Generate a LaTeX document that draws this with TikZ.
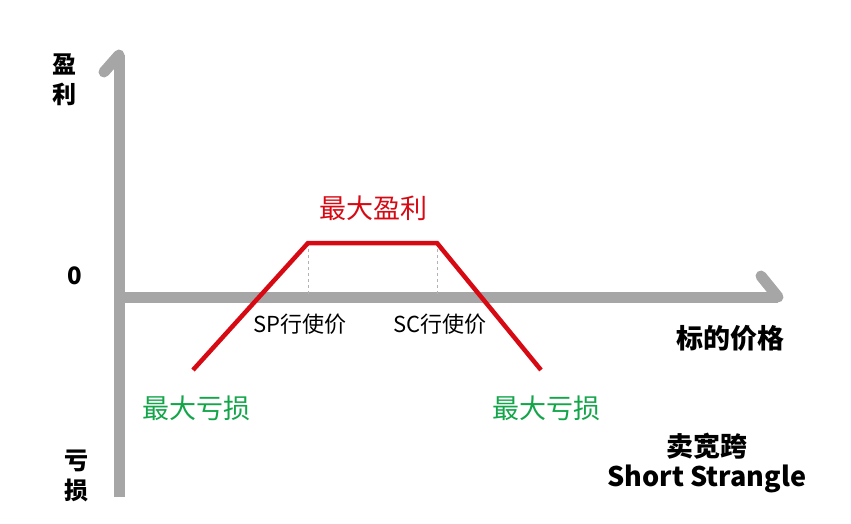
\documentclass[tikz,border=0pt]{standalone}
\usepackage{fontspec}
\setmainfont{Noto Sans CJK SC}
\definecolor{gr}{RGB}{20,165,75}
\definecolor{rd}{RGB}{215,10,20}
\begin{document}
\begin{tikzpicture}[x=1pt,y=-1pt,
 axis/.style={draw=gray!70,line width=11pt},
 pay/.style={draw=rd,line width=4.5pt},
 guide/.style={draw=gray!60,dashed,line width=1pt},
 lbl/.style={font=\fontsize{22}{26}\selectfont,inner sep=0pt},
 big/.style={font=\fontsize{27}{32}\selectfont,inner sep=0pt},
 bold/.style={font=\bfseries\fontsize{27}{32}\selectfont,inner sep=0pt}]
\useasboundingbox (0,0) rectangle (851,524);
\coordinate (vt) at (119,55); \coordinate (vb) at (119,497); \coordinate (vh) at (104,72);
\coordinate (hl) at (119,297); \coordinate (hr) at (778,297); \coordinate (hh) at (761,276);
\draw[axis] (vb) -- (vt);
\draw[axis,line cap=round,line join=round] (vh) -- (vt);
\draw[axis] (hl) -- (hr);
\draw[axis,line cap=round] (hh) -- (hr);
\coordinate (a) at (193,370); \coordinate (b) at (308,243); \coordinate (c) at (437,243); \coordinate (d) at (541,370);
\coordinate (b0) at (308,297); \coordinate (c0) at (437,297);
\draw[guide] (b) -- (b0); \draw[guide] (c) -- (c0);
\draw[pay] (a) -- (b) -- (c) -- (d);
\node[big,text=rd] (mp) at (373,208) {最大盈利};
\node[bold,font=\bfseries\fontsize{24}{28}\selectfont] (zero) at (75,276) {0};
\node[bold,align=center,font=\bfseries\fontsize{24}{30}\selectfont] (yl) at (64,80) {盈\\利};
\node[bold,align=center,font=\bfseries\fontsize{24}{30}\selectfont] (yb) at (76,476) {亏\\损};
\node[lbl] (sp) at (300,324) {SP行使价};
\node[lbl] (sc) at (440,324) {SC行使价};
\node[bold] (x) at (730,338) {标的价格};
\node[big,text=gr] (l1) at (196,408) {最大亏损};
\node[big,text=gr] (l2) at (546,408) {最大亏损};
\node[bold] (t1) at (707,446) {卖宽跨};
\node[bold] (t2) at (707,479) {Short Strangle};
\end{tikzpicture}
\end{document}
